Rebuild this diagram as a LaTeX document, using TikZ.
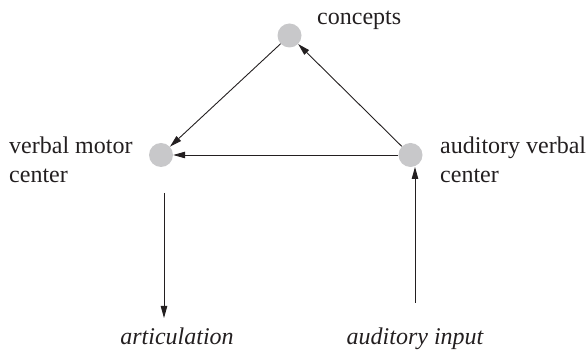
\documentclass[tikz,border=0pt]{standalone}
\usepackage{fontspec}
\setmainfont{Liberation Serif}
\usetikzlibrary{arrows.meta}
\definecolor{dotgray}{RGB}{200,200,202}
\definecolor{ink}{RGB}{35,31,32}
\tikzset{
  center/.style={circle, fill=dotgray, minimum size=24pt, inner sep=0pt},
  lbl/.style={font=\fontsize{24}{29.5}\selectfont, text=ink, inner sep=0pt, align=left},
  ilbl/.style={font=\fontsize{24}{29.5}\selectfont\itshape, text=ink, inner sep=0pt},
  link/.style={draw=ink, line width=0.9pt, -{Triangle[length=12pt,width=6.5pt]}}
}
\begin{document}
\begin{tikzpicture}[x=1pt,y=-1pt]
\useasboundingbox (0,0) rectangle (587,352);
% the three centres
\node[center] (con) at (289.5,35.5) {};
\node[center] (vmc) at (161,155) {};
\node[center] (avc) at (410.5,155) {};
% labels (base anchor sits on the last line)
\node[lbl, anchor=base west] (tcon) at (317,25) {concepts};
\node[lbl, anchor=base west] (tvmc) at (9,183) {verbal motor\\center};
\node[lbl, anchor=base west] (tavc) at (440,183) {auditory verbal\\center};
\node[ilbl, anchor=base] (tart) at (177,345) {articulation};
\node[ilbl, anchor=base] (tinp) at (415,345) {auditory input};
% connector end points
\coordinate (artTop) at (164,193);
\coordinate (artTip) at (164,318);
\coordinate (inpBot) at (415,303);
\coordinate (inpTip) at (415,167);
% pathways
\draw[link] (con) -- (vmc);
\draw[link] (avc) -- (con);
\draw[link] (avc) -- (vmc);
\draw[link] (artTop) -- (artTip);
\draw[link] (inpBot) -- (inpTip);
\end{tikzpicture}
\end{document}
